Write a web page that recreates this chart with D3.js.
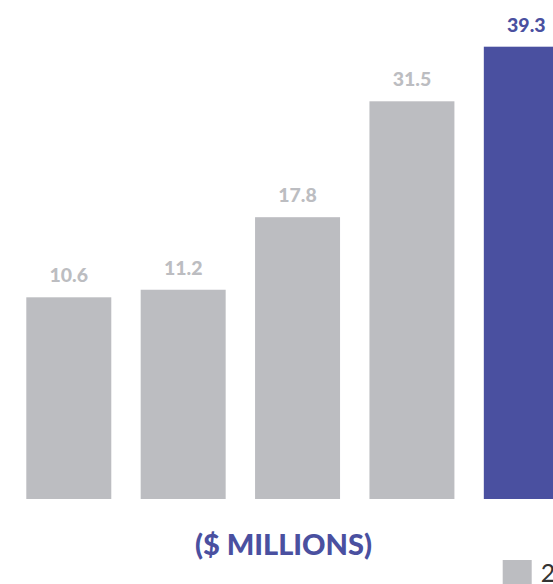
<!DOCTYPE html>
<html>
<head>
<meta charset="utf-8">
<script src="https://cdn.jsdelivr.net/npm/d3@7"></script>
<style>
    html, body { margin: 0; padding: 0; background: #fff; overflow: hidden; }
    svg { display: block; font-family: Lato, "Open Sans", sans-serif; }
</style>
</head>
<body>
<div id="chart"></div>
<script>
var years = ["2016", "2017", "2018", "2019", "2020"];
var values = [10.6, 11.2, 17.8, 31.5, 39.3];
var highlight = [false, false, false, false, true];
var legendLabels = ["2016-2019", "2020"];

var width = 553;
var height = 584;
var gray = "#bcbdc1";
var blue = "#4a50a0";

var svg = d3.select("#chart").append("svg")
    .attr("width", width)
    .attr("height", height);

// bars run off the right edge like the source crop
var x = d3.scaleBand()
    .domain(years)
    .range([26.3, 568.8])
    .paddingInner(0.257)
    .paddingOuter(0);

var y = d3.scaleSqrt()
    .domain([0.69, 39.3])
    .range([499, 46.7]);

var bars = svg.append("g");
bars.selectAll("rect")
    .data(values)
    .enter().append("rect")
    .attr("x", function (d, i) { return x(years[i]); })
    .attr("y", function (d) { return y(d); })
    .attr("width", x.bandwidth())
    .attr("height", function (d) { return y.range()[0] - y(d); })
    .attr("fill", function (d, i) { return highlight[i] ? blue : gray; });

bars.selectAll("text")
    .data(values)
    .enter().append("text")
    .attr("x", function (d, i) { return x(years[i]) + x.bandwidth() / 2; })
    .attr("y", function (d) { return y(d) - 15; })
    .attr("text-anchor", "middle")
    .attr("font-size", 19.5)
    .attr("font-weight", 900)
    .attr("fill", function (d, i) { return highlight[i] ? blue : gray; })
    .text(function (d) { return d.toFixed(1); });

svg.append("text")
    .attr("x", 283.5)
    .attr("y", 555)
    .attr("text-anchor", "middle")
    .attr("font-size", 29)
    .attr("font-weight", 900)
    .attr("fill", blue)
    .text("($ MILLIONS)");

// legend, cut off at the right edge
var legend = svg.append("g").attr("transform", "translate(502.7,560)");
legend.append("rect")
    .attr("width", 29)
    .attr("height", 29)
    .attr("fill", gray);
legend.append("text")
    .attr("x", 38)
    .attr("y", 22)
    .attr("font-size", 25)
    .attr("fill", "#333")
    .text(legendLabels[0]);
</script>
</body>
</html>
